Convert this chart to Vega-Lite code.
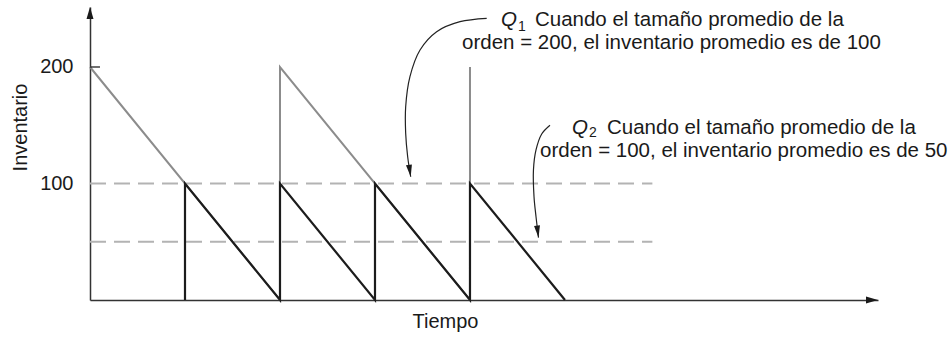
{
  "$schema": "https://vega.github.io/schema/vega-lite/v6.json",
  "width": 788,
  "height": 293,
  "autosize": {"type": "none"},
  "padding": {"left": 90, "top": 7, "right": 73, "bottom": 38},
  "background": "white",
  "config": {"view": {"stroke": null}, "font": "Liberation Sans"},
  "datasets": {
    "saw": [
      {"s": "Q1", "i": 1, "t": 0, "v": 200},
      {"s": "Q1", "i": 2, "t": 2, "v": 0},
      {"s": "Q1", "i": 3, "t": 2, "v": 200},
      {"s": "Q1", "i": 4, "t": 4, "v": 0},
      {"s": "Q1", "i": 5, "t": 4, "v": 200},
      {"s": "Q2", "i": 1, "t": 1, "v": 0},
      {"s": "Q2", "i": 2, "t": 1, "v": 100},
      {"s": "Q2", "i": 3, "t": 2, "v": 0},
      {"s": "Q2", "i": 4, "t": 2, "v": 100},
      {"s": "Q2", "i": 5, "t": 3, "v": 0},
      {"s": "Q2", "i": 6, "t": 3, "v": 100},
      {"s": "Q2", "i": 7, "t": 4, "v": 0},
      {"s": "Q2", "i": 8, "t": 4, "v": 100},
      {"s": "Q2", "i": 9, "t": 5, "v": 0}
    ],
    "avg": [
      {"t": 0, "t2": 5.92, "v": 100},
      {"t": 0, "t2": 5.92, "v": 50}
    ],
    "tick": [{"t": 0, "t2": 0.105, "v": 200}],
    "curves": [
      {"a": "Q1", "i": 1, "t": 4.176, "v": 241.8},
      {"a": "Q1", "i": 2, "t": 3.895, "v": 238.9},
      {"a": "Q1", "i": 3, "t": 3.649, "v": 230.3},
      {"a": "Q1", "i": 4, "t": 3.474, "v": 214.6},
      {"a": "Q1", "i": 5, "t": 3.368, "v": 191.7},
      {"a": "Q1", "i": 6, "t": 3.323, "v": 165.9},
      {"a": "Q1", "i": 7, "t": 3.323, "v": 143.1},
      {"a": "Q1", "i": 8, "t": 3.344, "v": 123.0},
      {"a": "Q1", "i": 9, "t": 3.376, "v": 105.8},
      {"a": "Q2", "i": 1, "t": 4.842, "v": 150.0},
      {"a": "Q2", "i": 2, "t": 4.755, "v": 142.5},
      {"a": "Q2", "i": 3, "t": 4.695, "v": 128.8},
      {"a": "Q2", "i": 4, "t": 4.668, "v": 111.6},
      {"a": "Q2", "i": 5, "t": 4.674, "v": 88.7},
      {"a": "Q2", "i": 6, "t": 4.695, "v": 71.5},
      {"a": "Q2", "i": 7, "t": 4.721, "v": 53.6}
    ],
    "labels": [
      {"k": "q", "t": 4.326, "v": 234.9, "txt": "Q"},
      {"k": "sub", "t": 4.505, "v": 231.3, "txt": "1"},
      {"k": "body", "t": 4.684, "v": 234.9, "txt": "Cuando el tamaño promedio de la"},
      {"k": "body", "t": 3.916, "v": 215.2, "txt": "orden = 200, el inventario promedio es de 100"},
      {"k": "q", "t": 5.074, "v": 142.9, "txt": "Q"},
      {"k": "sub", "t": 5.253, "v": 139.5, "txt": "2"},
      {"k": "body", "t": 5.442, "v": 142.9, "txt": "Cuando el tamaño promedio de la"},
      {"k": "body", "t": 4.737, "v": 123.0, "txt": "orden = 100, el inventario promedio es de 50"}
    ]
  },
  "encoding": {
    "x": {
      "field": "t",
      "type": "quantitative",
      "scale": {"domain": [0, 8.295], "nice": false, "zero": false},
      "axis": {
        "title": "Tiempo",
        "labels": false,
        "ticks": false,
        "grid": false,
        "domainColor": "#333333",
        "domainWidth": 1.5,
        "titleFontSize": 20,
        "titleFontWeight": "normal",
        "titleColor": "#1a1a1a",
        "titleAlign": "center",
        "titleBaseline": "alphabetic",
        "titleX": 355,
        "titleY": 27
      }
    },
    "y": {
      "field": "v",
      "type": "quantitative",
      "scale": {"domain": [0, 251.5], "nice": false, "zero": false},
      "axis": {
        "title": "Inventario",
        "values": [100, 200],
        "ticks": false,
        "grid": false,
        "labelPadding": 17,
        "labelFontSize": 20,
        "labelColor": "#1a1a1a",
        "domainColor": "#333333",
        "domainWidth": 1.5,
        "titleFontSize": 20,
        "titleFontWeight": "normal",
        "titleColor": "#1a1a1a",
        "titleAngle": 270,
        "titleAlign": "center",
        "titleBaseline": "alphabetic",
        "titleX": -64,
        "titleY": 120
      }
    }
  },
  "layer": [
    {
      "data": {"name": "avg"},
      "mark": {"type": "rule", "color": "#b3b3b3", "strokeWidth": 2, "strokeDash": [16, 8]},
      "encoding": {"x2": {"field": "t2"}}
    },
    {
      "data": {"name": "saw"},
      "transform": [{"filter": "datum.s === 'Q1'"}],
      "mark": {"type": "line", "color": "#8c8c8c", "strokeWidth": 2},
      "encoding": {"order": {"field": "i", "type": "quantitative"}}
    },
    {
      "data": {"name": "saw"},
      "transform": [{"filter": "datum.s === 'Q2'"}],
      "mark": {"type": "line", "color": "#1c1c1c", "strokeWidth": 2.2},
      "encoding": {"order": {"field": "i", "type": "quantitative"}}
    },
    {
      "data": {"name": "tick"},
      "mark": {"type": "rule", "color": "#222222", "strokeWidth": 1.3},
      "encoding": {"x2": {"field": "t2"}}
    },
    {
      "data": {"name": "curves"},
      "mark": {"type": "line", "color": "#222222", "strokeWidth": 1.2, "interpolate": "catmull-rom"},
      "encoding": {
        "detail": {"field": "a"},
        "order": {"field": "i", "type": "quantitative"}
      }
    },
    {
      "data": {"name": "curves"},
      "transform": [{"filter": "datum.a === 'Q1' && datum.i === 9"}],
      "mark": {"type": "point", "filled": true, "color": "#1a1a1a", "opacity": 1, "size": 100, "angle": -8.5, "shape": "M0,0L0.6,-2.4L-0.6,-2.4Z"}
    },
    {
      "data": {"name": "curves"},
      "transform": [{"filter": "datum.a === 'Q2' && datum.i === 7"}],
      "mark": {"type": "point", "filled": true, "color": "#1a1a1a", "opacity": 1, "size": 100, "angle": -7, "shape": "M0,0L0.6,-2.4L-0.6,-2.4Z"}
    },
    {
      "data": {"values": [{"t": 0, "v": 251.5}]},
      "mark": {"type": "point", "filled": true, "color": "#1a1a1a", "opacity": 1, "size": 100, "shape": "M0,0L0.7,2.4L-0.7,2.4Z"}
    },
    {
      "data": {"values": [{"t": 8.295, "v": 0}]},
      "mark": {"type": "point", "filled": true, "color": "#1a1a1a", "opacity": 1, "size": 100, "shape": "M0,0L-2.4,0.7L-2.4,-0.7Z"}
    },
    {
      "data": {"name": "labels"},
      "transform": [{"filter": "datum.k === 'q'"}],
      "mark": {"type": "text", "align": "left", "baseline": "alphabetic", "fontSize": 20.5, "fontStyle": "italic", "color": "#1a1a1a"},
      "encoding": {"text": {"field": "txt"}}
    },
    {
      "data": {"name": "labels"},
      "transform": [{"filter": "datum.k === 'sub'"}],
      "mark": {"type": "text", "align": "left", "baseline": "alphabetic", "fontSize": 14, "color": "#1a1a1a"},
      "encoding": {"text": {"field": "txt"}}
    },
    {
      "data": {"name": "labels"},
      "transform": [{"filter": "datum.k === 'body'"}],
      "mark": {"type": "text", "align": "left", "baseline": "alphabetic", "fontSize": 20.5, "color": "#1a1a1a"},
      "encoding": {"text": {"field": "txt"}}
    }
  ]
}
